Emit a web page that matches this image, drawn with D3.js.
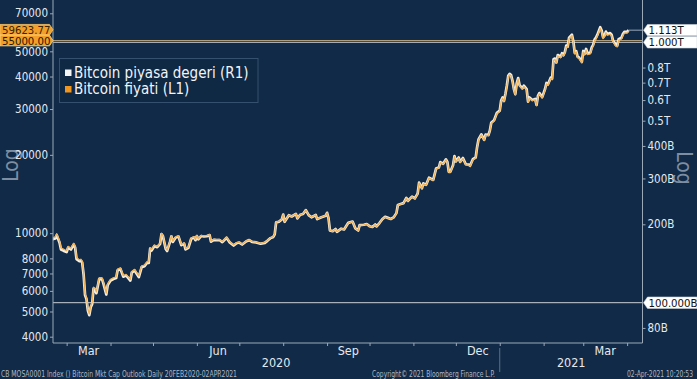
<!DOCTYPE html>
<html><head><meta charset="utf-8">
<script src="https://cdn.jsdelivr.net/npm/d3@7"></script>
<style>
html,body{margin:0;padding:0;background:#112a47;}
svg{display:block;}
text{font-family:"DejaVu Sans Condensed","DejaVu Sans",sans-serif;}
</style>
</head><body>
<svg id="chart" width="697" height="379"></svg>
<script>
// ---------- DATA ----------
const dates = [
"2020-02-20","2020-02-22","2020-02-23","2020-02-25","2020-02-26","2020-02-28",
"2020-03-01","2020-03-02","2020-03-04","2020-03-06","2020-03-07","2020-03-08","2020-03-10","2020-03-11","2020-03-12","2020-03-13","2020-03-14","2020-03-15","2020-03-16","2020-03-17","2020-03-18","2020-03-19","2020-03-20","2020-03-21","2020-03-22","2020-03-24","2020-03-26","2020-03-27","2020-03-29","2020-03-30",
"2020-04-01","2020-04-03","2020-04-05","2020-04-06","2020-04-08","2020-04-10","2020-04-12","2020-04-13","2020-04-15","2020-04-16","2020-04-18","2020-04-21","2020-04-23","2020-04-25","2020-04-27","2020-04-28","2020-04-29","2020-04-30",
"2020-05-02","2020-05-04","2020-05-06","2020-05-07","2020-05-08","2020-05-10","2020-05-11","2020-05-13","2020-05-14","2020-05-15","2020-05-17","2020-05-19","2020-05-21","2020-05-23","2020-05-24","2020-05-26","2020-05-28","2020-05-30","2020-05-31",
"2020-06-01","2020-06-02","2020-06-04","2020-06-06","2020-06-08","2020-06-10","2020-06-11","2020-06-13","2020-06-15","2020-06-17","2020-06-19","2020-06-22","2020-06-24","2020-06-27","2020-06-29",
"2020-07-01","2020-07-03","2020-07-06","2020-07-08","2020-07-10","2020-07-13","2020-07-16","2020-07-19","2020-07-21","2020-07-23","2020-07-25","2020-07-26","2020-07-27","2020-07-29","2020-07-31",
"2020-08-01","2020-08-02","2020-08-05","2020-08-07","2020-08-10","2020-08-11","2020-08-13","2020-08-15","2020-08-17","2020-08-19","2020-08-21","2020-08-24","2020-08-25","2020-08-28","2020-08-31",
"2020-09-01","2020-09-02","2020-09-03","2020-09-05","2020-09-07","2020-09-08","2020-09-11","2020-09-13","2020-09-16","2020-09-19","2020-09-21","2020-09-23","2020-09-24","2020-09-27","2020-09-29",
"2020-10-01","2020-10-03","2020-10-05","2020-10-06","2020-10-08","2020-10-10","2020-10-12","2020-10-14","2020-10-16","2020-10-18","2020-10-20","2020-10-21","2020-10-23","2020-10-25","2020-10-27","2020-10-28","2020-10-31",
"2020-11-02","2020-11-04","2020-11-05","2020-11-07","2020-11-08","2020-11-10","2020-11-12","2020-11-15","2020-11-17","2020-11-19","2020-11-20","2020-11-22","2020-11-24","2020-11-25","2020-11-26","2020-11-27","2020-11-29","2020-11-30",
"2020-12-01","2020-12-03","2020-12-04","2020-12-06","2020-12-08","2020-12-10","2020-12-11","2020-12-13","2020-12-15","2020-12-16","2020-12-17","2020-12-19","2020-12-21","2020-12-22","2020-12-24","2020-12-25","2020-12-26","2020-12-28","2020-12-30",
"2021-01-01","2021-01-02","2021-01-03","2021-01-04","2021-01-05","2021-01-06","2021-01-07","2021-01-08","2021-01-09","2021-01-10","2021-01-11","2021-01-12","2021-01-13","2021-01-14","2021-01-15","2021-01-17","2021-01-18","2021-01-20","2021-01-21","2021-01-22","2021-01-24","2021-01-26","2021-01-27","2021-01-28","2021-01-29","2021-01-31",
"2021-02-02","2021-02-03","2021-02-04","2021-02-06","2021-02-07","2021-02-08","2021-02-09","2021-02-10","2021-02-11","2021-02-13","2021-02-14","2021-02-15","2021-02-16","2021-02-17","2021-02-18","2021-02-19","2021-02-21","2021-02-22","2021-02-23","2021-02-24","2021-02-25","2021-02-26","2021-02-28",
"2021-03-01","2021-03-02","2021-03-03","2021-03-04","2021-03-06","2021-03-07","2021-03-08","2021-03-09","2021-03-10","2021-03-11","2021-03-13","2021-03-14","2021-03-15","2021-03-16","2021-03-17","2021-03-18","2021-03-20","2021-03-21","2021-03-22","2021-03-24","2021-03-25","2021-03-26","2021-03-28","2021-03-29","2021-03-30","2021-03-31",
"2021-04-01","2021-04-02"
];
// Bitcoin fiyati (L1), USD
const priceUSD = [
9600,9670,9960,9310,8780,8670,
8560,8900,8760,9150,8900,8040,7900,7940,7800,7000,5850,5650,5100,4900,5250,5400,6200,6150,5950,6740,6740,6470,5880,6390,
6640,6730,6790,7270,7360,6870,6940,6840,6640,7120,7260,6850,7480,7540,7790,7760,8800,8660,
8990,8890,9150,9990,9810,8760,8600,9320,9790,9320,9680,9780,9060,9180,8720,8840,9580,9700,9460,
9800,9520,9800,9760,9780,9880,9320,9480,9450,9460,9290,9650,9290,9010,9190,
9230,9070,9340,9430,9290,9240,9130,9210,9390,9600,9700,9930,11030,11100,11320,
11800,11070,11740,11600,11880,11410,11780,11860,12280,11750,11520,11760,11340,11530,11680,
11970,11410,10250,10170,10370,10120,10400,10330,10950,11080,10420,10240,10740,10770,10840,
10620,10550,10790,10600,10920,11300,11540,11430,11320,11480,11920,12820,12930,13030,13640,13280,13800,
13550,14150,15590,14830,15480,15300,16280,15960,17650,17820,18680,18420,19150,18730,17150,17140,18180,19700,
18790,19440,18700,19360,18320,18260,18060,19160,19440,21310,22800,23860,22740,23820,23720,24660,26440,27040,28860,
29370,32130,33000,32020,34030,36630,39970,40670,40240,38240,35540,34010,37390,39160,36830,35790,36630,35550,31800,33010,32290,32570,30900,33470,34320,33110,
35510,37470,36930,39270,38900,46200,46480,44920,47970,47230,48720,47940,49200,52150,51680,55890,57410,54090,48890,49680,47260,46980,45140,
49630,48380,50540,48560,48910,51210,52380,54880,55850,57330,61240,59500,56000,56900,58910,57640,58110,57350,54530,52300,52000,55080,55780,57630,58730,58790,
58740,59623.77
];
// Bitcoin piyasa degeri (R1), USD billions
const marketCapB = [
175.1,176.4,181.7,169.8,160.1,158.1,
156.5,162.7,160.1,167.3,162.7,147.0,144.4,145.1,142.6,128.0,106.9,103.3,93.2,89.6,96.0,98.7,113.3,112.4,108.8,123.2,123.2,118.3,107.5,116.8,
121.6,123.3,124.4,133.2,134.8,125.9,127.1,125.3,121.6,130.4,133.0,125.5,137.0,138.1,142.7,142.2,161.2,158.7,
165.1,163.3,168.1,183.5,180.2,160.9,158.0,171.2,179.8,171.2,177.8,179.7,166.4,168.6,160.2,162.4,176.0,178.2,173.8,
180.3,175.2,180.3,179.6,180.0,181.8,171.5,174.4,173.9,174.1,170.9,177.6,170.9,165.8,169.1,
170.2,167.3,172.2,173.9,171.3,170.4,168.4,169.8,173.2,177.0,178.9,183.1,203.4,204.7,208.7,
217.9,204.5,216.8,214.3,219.4,210.7,217.6,219.1,226.8,217.0,212.8,217.2,209.4,213.0,215.7,
221.4,211.1,189.6,188.1,191.8,187.2,192.4,191.1,202.6,205.0,192.8,189.4,198.7,199.2,200.5,
196.7,195.4,199.8,196.3,202.2,209.3,213.7,211.7,209.6,212.6,220.8,237.4,239.5,241.3,252.6,245.9,255.6,
251.4,262.5,289.2,275.1,287.2,283.8,302.0,296.1,327.4,330.6,346.5,341.7,355.2,347.4,318.1,317.9,337.2,365.4,
348.9,361.0,347.3,359.5,340.2,339.1,335.4,355.8,361.0,395.7,423.4,443.1,422.3,442.3,440.5,457.9,491.0,502.1,535.9,
546.3,597.6,613.8,595.6,633.0,681.3,743.4,756.5,748.5,711.3,661.0,632.6,695.5,728.4,685.0,665.7,681.3,661.2,591.5,614.0,600.6,605.8,574.7,622.5,638.4,615.8,
661.6,698.1,688.0,731.6,724.7,860.7,865.9,836.9,893.7,879.9,907.7,893.1,916.6,971.6,962.8,1041.2,1069.5,1007.7,910.8,925.5,880.5,875.2,841.0,
926.1,902.8,943.1,906.1,912.7,955.6,977.4,1024.1,1042.2,1069.8,1142.7,1110.3,1045.0,1061.8,1099.3,1075.6,1084.3,1070.2,1017.5,975.9,970.3,1027.8,1040.9,1075.4,1095.9,1097.0,
1096.7,1113.2
];
const leftTicks = [4000,5000,6000,7000,8000,10000,20000,30000,40000,50000,70000];
const rightTicksB = [80,200,300,400,500,600,700,800];
const rightTickLabels = ["80B","200B","300B","400B","0.5T","0.6T","0.7T","0.8T"];
const monthLabelMonths = ["2020-03","2020-06","2020-09","2020-12","2021-03"];
const monthLabelText = ["Mar","Jun","Sep","Dec","Mar"];
const yearLabels = ["2020","2021"];
const legendLabels = ["Bitcoin piyasa degeri (R1)","Bitcoin fiyati (L1)"];
const priceRefLevel = 55000;
const capRefLevelsB = [1000,100];
const capRefTags = ["1.000T","100.000B"];
const lastCapTag = "1.113T";
const lastPriceTag = "59623.77";
const priceRefTag = "55000.00";
const footerLeft = "CB MOSA0001 Index () Bitcoin Mkt Cap Outlook  Daily 20FEB2020-02APR2021";
const footerMid = "Copyright\u00A9 2021 Bloomberg Finance L.P.";
const footerRight = "02-Apr-2021 10:20:53";

// ---------- SETUP ----------
const parse = d3.utcParse("%Y-%m-%d");
const n = Math.min(dates.length, priceUSD.length, marketCapB.length);
const data = d3.range(n).map(i => ({date: parse(dates[i]), price: priceUSD[i], cap: marketCapB[i]}));

const BG = "#112a47", AXIS = "#9ba8b8", TXT = "#e4e9ef";
const L = 53, R = 642.5, T = 0, B = 343;

const x = d3.scaleUtc().domain([parse("2020-02-20"), parse("2021-04-12")]).range([52.5, 642.7]);
const yL = d3.scaleLog().domain([4000,70000]).range([336.7,13.3]);
const yR = d3.scaleLog().domain([100,1000]).range([302.7,42.3]);

const svg = d3.select("#chart");
svg.append("rect").attr("width",697).attr("height",379).attr("fill",BG);

svg.append("clipPath").attr("id","plotclip").append("rect")
  .attr("x",L).attr("y",T).attr("width",R-L).attr("height",B-T);

// Log labels
svg.append("text").attr("transform","translate(18,165) rotate(-90)")
  .attr("text-anchor","middle").attr("font-size",21).attr("fill","#7e8ea2").text("Log");
svg.append("text").attr("transform","translate(677,168) rotate(90)")
  .attr("text-anchor","middle").attr("font-size",21).attr("fill","#7e8ea2").text("Log");

// reference lines
const plot = svg.append("g").attr("clip-path","url(#plotclip)");
plot.append("line").attr("x1",L).attr("x2",R)
  .attr("y1",yL(priceRefLevel)).attr("y2",yL(priceRefLevel))
  .attr("stroke","#b8a47c").attr("stroke-width",1);
capRefLevelsB.forEach(v => {
  plot.append("line").attr("x1",L).attr("x2",R)
    .attr("y1",yR(v)).attr("y2",yR(v))
    .attr("stroke","#c9ced6").attr("stroke-width",1);
});

// series lines
const capLine = d3.line().x(d=>x(d.date)).y(d=>yR(d.cap));
const priceLine = d3.line().x(d=>x(d.date)).y(d=>yL(d.price));
plot.append("path").datum(data).attr("d",capLine)
  .attr("fill","none").attr("stroke","#f3efe4").attr("stroke-width",2.7).attr("stroke-linejoin","round");
plot.append("path").datum(data).attr("d",priceLine)
  .attr("fill","none").attr("stroke","#efb055").attr("stroke-width",1.3).attr("stroke-linejoin","round");

// last value connector
const last = data[data.length-1];
svg.append("line").attr("x1",x(last.date)).attr("x2",R)
  .attr("y1",yR(last.cap)).attr("y2",yR(last.cap))
  .attr("stroke","#9ba8b8").attr("stroke-width",1);

// axes
const axL = svg.append("g").attr("transform",`translate(${L},0)`)
  .call(d3.axisLeft(yL).tickValues(leftTicks).tickFormat(d3.format("d")).tickSize(3).tickPadding(2));
const axR = svg.append("g").attr("transform",`translate(${R},0)`)
  .call(d3.axisRight(yR).tickValues(rightTicksB).tickFormat((d,i)=>rightTickLabels[i]).tickSize(3).tickPadding(2));
const monthStarts = d3.utcMonth.range(parse("2020-03-01"), parse("2021-04-02"));
const axB = svg.append("g").attr("transform",`translate(0,${B})`)
  .call(d3.axisBottom(x).tickValues(monthStarts).tickFormat("").tickSize(3));
[axL,axR,axB].forEach(g=>{
  g.select(".domain").remove();
  g.selectAll("line").attr("stroke",AXIS);
  g.selectAll("text").attr("fill",TXT).attr("font-size",11.5)
   .style("font-family",'"DejaVu Sans Condensed","DejaVu Sans",sans-serif');
});
svg.append("line").attr("x1",L).attr("x2",L).attr("y1",T).attr("y2",B).attr("stroke",AXIS);
svg.append("line").attr("x1",R).attr("x2",R).attr("y1",T).attr("y2",B).attr("stroke",AXIS);
svg.append("line").attr("x1",L).attr("x2",R).attr("y1",B).attr("y2",B).attr("stroke",AXIS);

// month labels (centered in month)
const parseM = d3.utcParse("%Y-%m");
monthLabelMonths.forEach((m,i)=>{
  const s = parseM(m), e = d3.utcMonth.offset(s,1);
  svg.append("text").attr("x",(x(s)+x(e))/2).attr("y",355)
    .attr("text-anchor","middle").attr("font-size",12.5).attr("fill",TXT).text(monthLabelText[i]);
});
// year labels
const yearBreak = parse("2021-01-01");
const yearCenters = [(x.range()[0]+x(yearBreak))/2, (x(yearBreak)+x.range()[1])/2];
yearLabels.forEach((t,i)=>{
  svg.append("text").attr("x",yearCenters[i]).attr("y",367)
    .attr("text-anchor","middle").attr("font-size",12.5).attr("fill",TXT).text(t);
});
svg.append("line").attr("x1",x(yearBreak)).attr("x2",x(yearBreak)).attr("y1",348).attr("y2",372)
  .attr("stroke","#5d6f86").attr("stroke-width",1);

// legend
const lg = svg.append("g");
lg.append("rect").attr("x",59.5).attr("y",58.5).attr("width",198.5).attr("height",44)
  .attr("fill","#0f2844").attr("stroke","#34506e").attr("stroke-width",1);
const legColors = ["#f4f4f4","#f0961e"];
legendLabels.forEach((t,i)=>{
  const by = 77.5 + i*16.5;
  lg.append("rect").attr("x",65).attr("y",by-8).attr("width",6.5).attr("height",6.5).attr("fill",legColors[i]);
  lg.append("text").attr("x",74).attr("y",by).attr("font-size",15).attr("fill","#f2f4f7").text(t);
});

// tags
function leftTag(yc, label, fill, stroke, textColor){
  const h = 10.6, x0 = 0, x1 = 49.5, tip = 53;
  const g = svg.append("g");
  g.append("path").attr("d",`M${x0},${yc-h/2}H${x1}L${tip},${yc}L${x1},${yc+h/2}H${x0}Z`)
    .attr("fill",fill).attr("stroke",stroke).attr("stroke-width",0.8);
  g.append("text").attr("x",2).attr("y",yc+4).attr("font-size",11.3).attr("fill",textColor).text(label);
}
function rightTag(yc, label){
  const h = 11.4, tip = R+1, x1 = R+5, x2 = 697;
  const g = svg.append("g");
  g.append("path").attr("d",`M${tip},${yc}L${x1},${yc-h/2}H${x2}V${yc+h/2}H${x1}Z`)
    .attr("fill","#ffffff").attr("stroke","#d0d4da").attr("stroke-width",0.6);
  g.append("text").attr("x",x1+1).attr("y",yc+4.1).attr("font-size",11.3).attr("fill","#111").text(label);
}
const yRef = yL(priceRefLevel);
const yLastP = Math.min(yL(last.price), yRef - 10.8);
leftTag(yLastP, lastPriceTag, "#f2a02a", "#f7c46a", "#3b2200");
leftTag(yRef, priceRefTag, "#f2a02a", "#ffd98a", "#2a1800");
rightTag(yR(last.cap), lastCapTag);
rightTag(yR(capRefLevelsB[0]), capRefTags[0]);
rightTag(yR(capRefLevelsB[1]), capRefTags[1]);

// footer
svg.append("text").attr("x",1).attr("y",377).attr("font-size",8).attr("fill","#aeb7c2")
  .attr("textLength",236).attr("lengthAdjust","spacingAndGlyphs").text(footerLeft);
svg.append("text").attr("x",372).attr("y",377).attr("font-size",8).attr("fill","#aeb7c2")
  .attr("textLength",123).attr("lengthAdjust","spacingAndGlyphs").text(footerMid);
svg.append("text").attr("x",627).attr("y",377).attr("font-size",8).attr("fill","#aeb7c2")
  .attr("textLength",66).attr("lengthAdjust","spacingAndGlyphs").text(footerRight);
</script>
</body></html>
